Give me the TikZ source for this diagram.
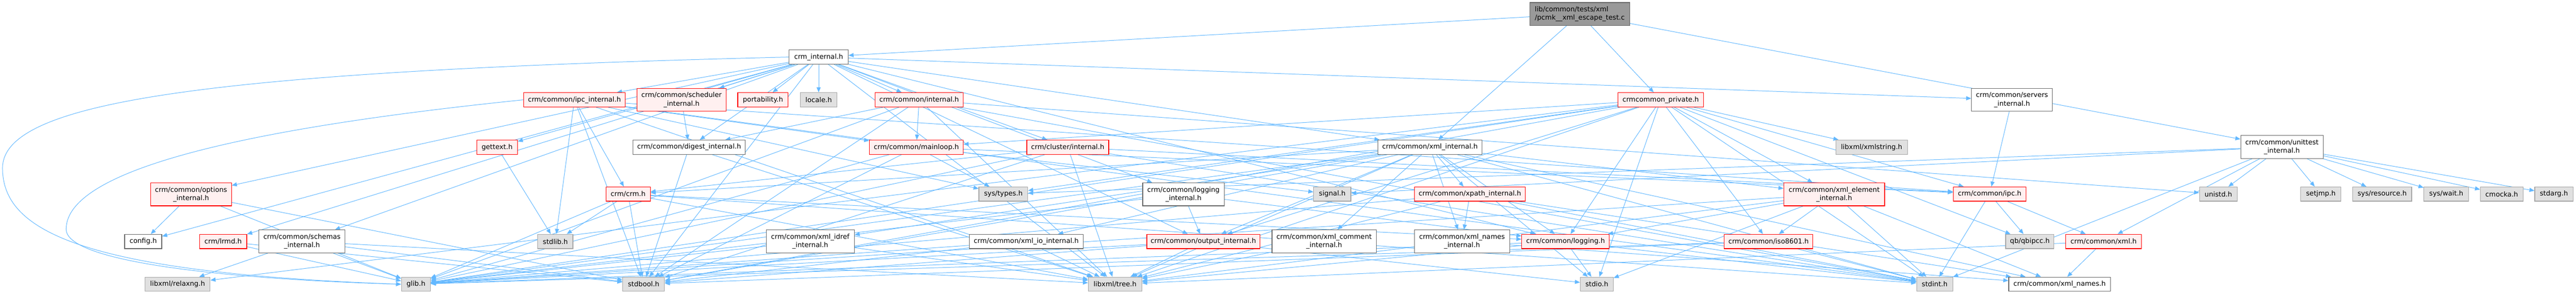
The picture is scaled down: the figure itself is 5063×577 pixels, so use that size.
\documentclass[tikz,border=0pt]{standalone}
\usepackage{fontspec}
\setmainfont{DejaVu Sans}
\usetikzlibrary{arrows.meta,backgrounds}
\definecolor{edgeblue}{HTML}{63B8FF}
\definecolor{redfill}{HTML}{FFF0F0}
\definecolor{sysfill}{HTML}{E0E0E0}
\definecolor{topfill}{HTML}{999999}

\begin{document}
\begin{tikzpicture}[x=1pt,y=-1pt,
  box/.style={draw,rectangle,inner sep=0pt,minimum height=28pt,align=center,line width=1.2pt,font=\fontsize{13.33}{16.6}\selectfont},
  twoline/.style={minimum height=45pt},
  boxw/.style={minimum width=#1pt},
  redbox/.style={box,draw=red,fill=redfill},
  whitebox/.style={box,draw=black!60,fill=white},
  sysbox/.style={box,draw=black!35,fill=sysfill},
  topbox/.style={box,draw=black!60,fill=topfill,align=left},
  dep/.style={draw=edgeblue,line width=1pt,-{Triangle[length=10pt,width=8pt]}}]
\useasboundingbox (0,0) rectangle (5063,577);
\node[topbox,twoline,boxw=196] (test) at (3105,27.5) {lib/common/tests/xml\\/pcmk\_\_xml\_escape\_test.c};
\node[whitebox,boxw=116] (crmint) at (1609,112) {crm\_internal.h};
\node[redbox,boxw=200] (ipcint) at (1129,196) {crm/common/ipc\_internal.h};
\node[redbox,twoline,boxw=175] (schedint) at (1339.5,196) {crm/common/scheduler\\\_internal.h};
\node[redbox,boxw=99] (port) at (1499.5,196) {portability.h};
\node[sysbox,boxw=72] (locale) at (1609,196) {locale.h};
\node[redbox,boxw=173] (comint) at (1806.5,196) {crm/common/internal.h};
\node[redbox,boxw=168] (priv) at (3264,196) {crmcommon\_private.h};
\node[whitebox,twoline,boxw=159] (servint) at (3954.5,196) {crm/common/servers\\\_internal.h};
\node[redbox,boxw=80] (gettext) at (977,289) {gettext.h};
\node[whitebox,boxw=221] (digest) at (1354.5,289) {crm/common/digest\_internal.h};
\node[redbox,boxw=184] (mainloop) at (1801,289) {crm/common/mainloop.h};
\node[redbox,boxw=161] (clusint) at (2098.5,289) {crm/cluster/internal.h};
\node[whitebox,boxw=205] (xmlint) at (2810.5,289) {crm/common/xml\_internal.h};
\node[sysbox,boxw=141] (xmlstr) at (3678.5,289) {libxml/xmlstring.h};
\node[whitebox,twoline,boxw=162] (unitint) at (4485,288.5) {crm/common/unittest\\\_internal.h};
\node[redbox,twoline,boxw=159] (optint) at (375.5,381.5) {crm/common/options\\\_internal.h};
\node[redbox,boxw=87] (crmh) at (1234.5,381) {crm/crm.h};
\node[sysbox,boxw=96] (systypes) at (1972,381) {sys/types.h};
\node[whitebox,twoline,boxw=160] (logint) at (2326,381.5) {crm/common/logging\\\_internal.h};
\node[sysbox,boxw=73] (signal) at (2618.5,381) {signal.h};
\node[redbox,boxw=218] (xpathint) at (2889,381) {crm/common/xpath\_internal.h};
\node[redbox,twoline,boxw=198] (xmlelem) at (3605,381.5) {crm/common/xml\_element\\\_internal.h};
\node[redbox,boxw=143] (ipch) at (3910.5,381) {crm/common/ipc.h};
\node[sysbox,boxw=74] (unistd) at (4360,381) {unistd.h};
\node[sysbox,boxw=79] (setjmp) at (4561.5,381) {setjmp.h};
\node[sysbox,boxw=116] (sysres) at (4682,381) {sys/resource.h};
\node[sysbox,boxw=88] (syswait) at (4808,381) {sys/wait.h};
\node[sysbox,boxw=84] (cmocka) at (4917,381) {cmocka.h};
\node[sysbox,boxw=75] (stdarg) at (5019.5,381) {stdarg.h};
\node[whitebox,boxw=73] (config) at (281.5,474) {config.h};
\node[redbox,boxw=93] (lrmd) at (438.5,474) {crm/lrmd.h};
\node[whitebox,twoline,boxw=169] (schemint) at (593.5,474) {crm/common/schemas\\\_internal.h};
\node[sysbox,boxw=69] (stdlib) at (1091.5,474) {stdlib.h};
\node[whitebox,twoline,boxw=173] (idref) at (1592.5,474) {crm/common/xml\_idref\\\_internal.h};
\node[whitebox,boxw=224] (xmlio) at (2017,474) {crm/common/xml\_io\_internal.h};
\node[redbox,boxw=222] (outint) at (2365,474) {crm/common/output\_internal.h};
\node[whitebox,twoline,boxw=205] (comment) at (2602.5,474) {crm/common/xml\_comment\\\_internal.h};
\node[whitebox,twoline,boxw=187] (namesint) at (2873.5,474) {crm/common/xml\_names\\\_internal.h};
\node[redbox,boxw=172] (logh) at (3077,474) {crm/common/logging.h};
\node[redbox,boxw=174] (iso) at (3476,474) {crm/common/iso8601.h};
\node[sysbox,boxw=95] (qbipcc) at (3989.5,474) {qb/qbipcc.h};
\node[redbox,boxw=149] (xmlh) at (4134.5,474) {crm/common/xml.h};
\node[sysbox,boxw=128] (relaxng) at (349,558) {libxml/relaxng.h};
\node[sysbox,boxw=57] (glib) at (817.5,558) {glib.h};
\node[sysbox,boxw=82] (stdbool) at (1265,558) {stdbool.h};
\node[sysbox,boxw=105] (tree) at (2191.5,558) {libxml/tree.h};
\node[sysbox,boxw=65] (stdio) at (3138.5,558) {stdio.h};
\node[sysbox,boxw=71] (stdint) at (3802.5,558) {stdint.h};
\node[whitebox,boxw=200] (xmlnames) at (4048,558) {crm/common/xml\_names.h};
\begin{scope}[on background layer]
\foreach \t in {crmint,xmlint,priv,unitint} \draw[dep] (test) -- (\t);
\foreach \t in {config,stdbool,tree,lrmd,clusint,logh,logint,ipcint,optint,outint,schedint,schemint,servint,xmlint,comint,locale,gettext,port,digest} \draw[dep] (crmint) -- (\t);
\draw[dep] (crmint.west) .. controls (400,140) and (5,200) .. (5,330) .. controls (5,450) and (150,535) .. (glib.west);
\foreach \t in {stdlib,stdbool,stdint,systypes,tree,crmh,ipch,mainloop} \draw[dep] (ipcint) -- (\t);
\draw[dep] (ipcint.west) .. controls (500,250) and (130,330) .. (130,450) .. controls (130,520) and (500,550) .. (glib.west);
\draw[dep] (schedint) -- (digest);
\foreach \t in {digest,mainloop,glib,stdbool,stdint,unistd,tree} \draw[dep] (comint) -- (\t);
\foreach \t in {stdint,stdbool,systypes,glib,tree,ipch,iso,logh,mainloop,outint,xmlelem,xmlstr,qbipcc,stdio,relaxng} \draw[dep] (priv) -- (\t);
\draw[dep] (servint) -- (ipch);
\draw[dep] (gettext) -- (stdlib);
\foreach \t in {stdbool,tree} \draw[dep] (digest) -- (\t);
\foreach \t in {signal,systypes,glib,stdbool,ipch} \draw[dep] (mainloop) -- (\t);
\foreach \t in {glib,stdbool,stdint,tree,crmh,ipch} \draw[dep] (clusint) -- (\t);
\foreach \t in {stdint,stdio,glib,stdbool,tree,crmh,logh,outint,comment,xmlelem,idref,xmlio,xmlnames,namesint,xpathint} \draw[dep] (xmlint) -- (\t);
\foreach \t in {signal,systypes,stdint,unistd,setjmp,sysres,syswait,cmocka,stdarg,xmlh} \draw[dep] (unitint) -- (\t);
\foreach \t in {config,glib,stdbool} \draw[dep] (optint) -- (\t);
\foreach \t in {stdlib,glib,stdbool,stdint,tree,logh} \draw[dep] (crmh) -- (\t);
\foreach \t in {outint,logh,glib} \draw[dep] (logint) -- (\t);
\foreach \t in {glib,tree,namesint,stdint,xmlnames} \draw[dep] (xpathint) -- (\t);
\foreach \t in {glib,stdio,stdint,tree,iso,logh,xmlnames} \draw[dep] (xmlelem) -- (\t);
\foreach \t in {stdint,qbipcc,xmlh} \draw[dep] (ipch) -- (\t);
\foreach \t in {glib,stdbool} \draw[dep] (lrmd) -- (\t);
\foreach \t in {relaxng,glib,tree,stdbool} \draw[dep] (schemint) -- (\t);
\foreach \t in {glib,tree} \draw[dep] (idref) -- (\t);
\foreach \t in {glib,stdbool,tree} \draw[dep] (xmlio) -- (\t);
\foreach \t in {stdbool,stdio,tree,glib} \draw[dep] (outint) -- (\t);
\draw[dep] (comment) -- (tree);
\draw[dep] (namesint) -- (xmlnames);
\foreach \t in {stdio,stdint,glib,tree} \draw[dep] (logh) -- (\t);
\foreach \t in {stdint,stdbool,glib} \draw[dep] (iso) -- (\t);
\foreach \t in {tree,xmlnames} \draw[dep] (xmlh) -- (\t);
\end{scope}
\end{tikzpicture}
\end{document}
